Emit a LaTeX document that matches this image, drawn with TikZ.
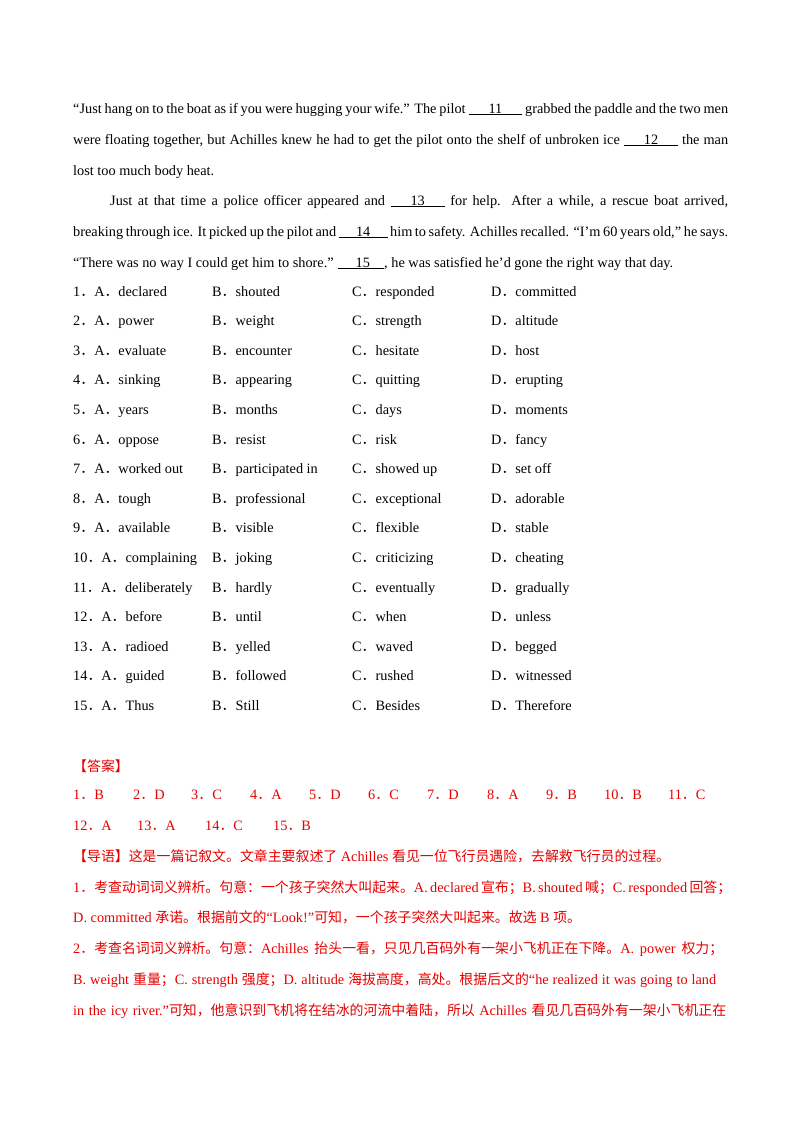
\documentclass[tikz,border=0pt]{standalone}
\usepackage{fontspec}
\setmainfont{Liberation Serif}
\newfontfamily\cjk{Noto Sans CJK SC}
\newcommand{\C}[1]{{\cjk\fontsize{13.9}{14}\selectfont #1}}
\newcommand{\bl}[1]{\underline{\hspace{1.4em}#1\hspace{1.4em}}}
\definecolor{ans}{RGB}{230,0,0}
\begin{document}
\begin{tikzpicture}[x=1pt,y=-1pt,
  ln/.style={anchor=base west,inner sep=0pt,font=\fontsize{14.3}{14}\selectfont},
  rd/.style={ln,text=ans}]
\useasboundingbox (0,0) rectangle (800,1132);
\fill[white] (0,0) rectangle (800,1132);
\node[ln] (l1) at (73,113) {\makebox[655pt][s]{“Just hang on to the boat as if you were hugging your wife.” The pilot \bl{11} grabbed the paddle and the two men}};
\node[ln] (l2) at (73,144) {\makebox[655pt][s]{were floating together, but Achilles knew he had to get the pilot onto the shelf of unbroken ice \bl{12} the man}};
\node[ln] (l3) at (73,175) {lost too much body heat.};
\node[ln] (l4) at (110,205) {\makebox[618pt][s]{Just at that time a police officer appeared and \bl{13} for help. After a while, a rescue boat arrived,}};
\node[ln] (l5) at (73,236) {\makebox[655pt][s]{breaking through ice. It picked up the pilot and \underline{\hspace{1.2em}14\hspace{1.2em}} him to safety. Achilles recalled. “I’m 60 years old,” he says.}};
\node[ln] (l6) at (73,267) {“There was no way I could get him to shore.” \underline{\hspace{1.2em}15\hspace{1em}}, he was satisfied he’d gone the right way that day.};
\foreach \n/\a/\b/\c/\d [count=\i] in {
1/declared/shouted/responded/committed,
2/power/weight/strength/altitude,
3/evaluate/encounter/hesitate/host,
4/sinking/appearing/quitting/erupting,
5/years/months/days/moments,
6/oppose/resist/risk/fancy,
7/worked out/participated in/showed up/set off,
8/tough/professional/exceptional/adorable,
9/available/visible/flexible/stable,
10/complaining/joking/criticizing/cheating,
11/deliberately/hardly/eventually/gradually,
12/before/until/when/unless,
13/radioed/yelled/waved/begged,
14/guided/followed/rushed/witnessed,
15/Thus/Still/Besides/Therefore}{
  \pgfmathsetmacro\yy{296+(\i-1)*29.6}
  \node[ln] (o\i a) at (73,\yy) {\n\C{．}A\C{．}\a};
  \node[ln] (o\i b) at (212,\yy) {B\C{．}\b};
  \node[ln] (o\i c) at (352,\yy) {C\C{．}\c};
  \node[ln] (o\i d) at (491,\yy) {D\C{．}\d};
}
\node[rd] (h1) at (73,771) {\C{【答案】}};
\foreach \n/\l/\x [count=\i] in {1/B/73,2/D/133,3/C/191,4/A/250,5/D/309,6/C/368,7/D/427,8/A/487,9/B/546,10/B/604,11/C/668}
  \node[rd] (r\i) at (\x,799) {\n\C{．}\l};
\foreach \n/\l/\x [count=\i] in {12/A/73,13/A/137,14/C/205,15/B/273}
  \node[rd] (s\i) at (\x,830) {\n\C{．}\l};
\node[rd] (d1) at (73,861) {\C{【导语】这是一篇记叙文。文章主要叙述了} Achilles \C{看见一位飞行员遇险，去解救飞行员的过程。}};
\node[rd] (d2) at (73,892) {\makebox[657pt][s]{1\C{．考查动词词义辨析。句意：一个孩子突然大叫起来。}A. declared \C{宣布；}B. shouted \C{喊；}C. responded \C{回答；}}};
\node[rd] (d3) at (73,922) {D. committed \C{承诺。根据前文的}“Look!”\C{可知，一个孩子突然大叫起来。故选} B \C{项。}};
\node[rd] (d4) at (73,953) {\makebox[650pt][s]{2\C{．考查名词词义辨析。句意：}Achilles \C{抬头一看，只见几百码外有一架小飞机正在下降。}A. power \C{权力；}}};
\node[rd] (d5) at (73,984) {\makebox[643pt][s]{B. weight \C{重量；}C. strength \C{强度；}D. altitude \C{海拔高度，高处。根据后文的}“he realized it was going to land}};
\node[rd] (d6) at (73,1015) {\makebox[653pt][s]{in the icy river.”\C{可知，他意识到飞机将在结冰的河流中着陆，所以} Achilles \C{看见几百码外有一架小飞机正在}}};
\end{tikzpicture}
\end{document}
